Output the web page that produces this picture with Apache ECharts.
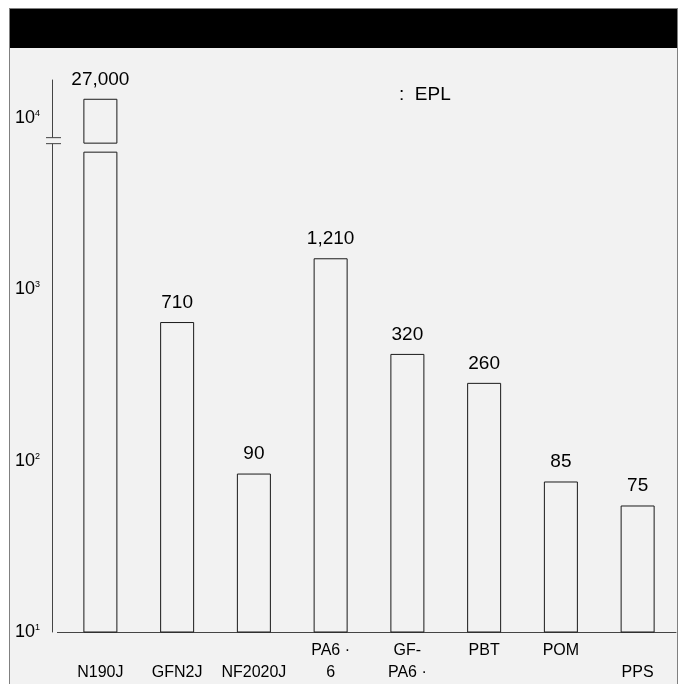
<!DOCTYPE html>
<html>
<head>
<meta charset="utf-8">
<script src="https://cdn.jsdelivr.net/npm/echarts@6/dist/echarts.min.js"></script>
<style>
  html, body { margin: 0; padding: 0; background: #ffffff; }
  #panel { position: absolute; left: 9px; top: 8px; width: 667px; height: 700px;
           background: #f2f2f2; border-left: 1px solid #808080; border-right: 1px solid #808080;
           border-top: 1px solid #808080; }
  #header { position: absolute; left: 0; top: 0; width: 667px; height: 39px; background: #000; }
  #chart { position: absolute; left: 0; top: 0; width: 685px; height: 684px; }
</style>
</head>
<body>
<div id="panel"><div id="header"></div></div>
<div id="chart"></div>
<script>
// ---- data ----
const categories = ['\nN190J', '\nGFN2J', '\nNF2020J', 'PA6 ·\n6', 'GF-\nPA6 ·', 'PBT', 'POM', '\nPPS'];
// bar heights as drawn (log scale); first bar is broken: this is its lower part
const barValues = [6340, 643, 84, 1514, 419, 284, 75.5, 54.7];
// broken first bar: gap top and upper box top as drawn
const brokenGapTop = 7060;
const brokenBarTop = 12900;
// printed value labels
const valueLabels = ['27,000', '710', '90', '1,210', '320', '260', '85', '75'];
// y tick exponents shown
const yTickExponents = [1, 2, 3, 4];
const legendText = ':  EPL';

const FONT = '"Liberation Sans", Arial, sans-serif';
const gapSeries = barValues.map((v, i) => i === 0 ? brokenGapTop - barValues[0] : '-');
const topSeries = barValues.map((v, i) => i === 0 ? brokenBarTop - brokenGapTop : '-');

const chart = echarts.init(document.getElementById('chart'), null, { renderer: 'canvas' });
const barStyle = { color: '#f2f2f2', borderColor: '#1a1a1a', borderWidth: 1 };

chart.setOption({
  backgroundColor: 'transparent',
  animation: false,
  textStyle: { fontFamily: FONT },
  title: {
    text: legendText, left: 394, top: 80,
    textStyle: { fontFamily: FONT, fontSize: 19, fontWeight: 'normal', color: '#000' }
  },
  grid: { left: 62, right: 9, top: 80, bottom: 50, containLabel: false },
  xAxis: {
    type: 'category',
    data: categories,
    axisLine: { lineStyle: { color: '#444', width: 1 } },
    axisTick: { show: false },
    axisLabel: { interval: 0, margin: 8, fontSize: 16, lineHeight: 22, color: '#000', fontFamily: FONT }
  },
  yAxis: {
    type: 'log',
    logBase: 10,
    min: 10,
    max: 16600,
    offset: 10,
    splitLine: { show: false },
    axisTick: { show: false },
    axisLine: { show: true, lineStyle: { color: '#444', width: 1 } },
    axisLabel: {
      margin: 12,
      color: '#000',
      formatter: function (v) {
        const l = Math.log10(v);
        const e = Math.round(l);
        if (Math.abs(l - e) > 1e-6 || yTickExponents.indexOf(e) < 0) return '';
        return '{b|10}{s|' + e + '}';
      },
      rich: {
        b: { fontSize: 18, lineHeight: 18, color: '#000', fontFamily: FONT },
        s: { fontSize: 9, verticalAlign: 'top', color: '#000', fontFamily: FONT }
      }
    }
  },
  series: [
    {
      type: 'bar', stack: 'b', barWidth: 34, data: barValues, itemStyle: barStyle,
      label: {
        show: true, position: 'top', distance: 10, fontSize: 19, color: '#000', fontFamily: FONT,
        formatter: p => p.dataIndex === 0 ? '' : valueLabels[p.dataIndex]
      }
    },
    {
      type: 'bar', stack: 'b', barWidth: 34, data: gapSeries,
      itemStyle: { color: 'rgba(0,0,0,0)', borderWidth: 0 }
    },
    {
      type: 'bar', stack: 'b', barWidth: 34, data: topSeries, itemStyle: barStyle,
      label: {
        show: true, position: 'top', distance: 10, fontSize: 19, color: '#000', fontFamily: FONT,
        formatter: p => valueLabels[p.dataIndex]
      }
    }
  ]
});

// axis break symbol and short axis extension, placed through the axis scale
const yGap = chart.convertToPixel({ yAxisIndex: 0 }, brokenGapTop);
const yBase = chart.convertToPixel({ yAxisIndex: 0 }, 10);
const axisX = 62 - 10;
chart.setOption({
  graphic: [
    { type: 'rect', shape: { x: axisX - 3, y: yGap - 6, width: 6, height: 6 }, style: { fill: '#f2f2f2' }, z: 100 },
    { type: 'line', shape: { x1: axisX - 6, y1: yGap - 6, x2: axisX + 9, y2: yGap - 6 }, style: { stroke: '#444', lineWidth: 1 }, z: 101 },
    { type: 'line', shape: { x1: axisX - 6, y1: yGap, x2: axisX + 9, y2: yGap }, style: { stroke: '#444', lineWidth: 1 }, z: 101 },
    { type: 'line', shape: { x1: axisX + 5, y1: Math.round(yBase) + 0.5, x2: 62, y2: Math.round(yBase) + 0.5 }, style: { stroke: '#444', lineWidth: 1 }, z: 101 }
  ]
});
</script>
</body>
</html>
